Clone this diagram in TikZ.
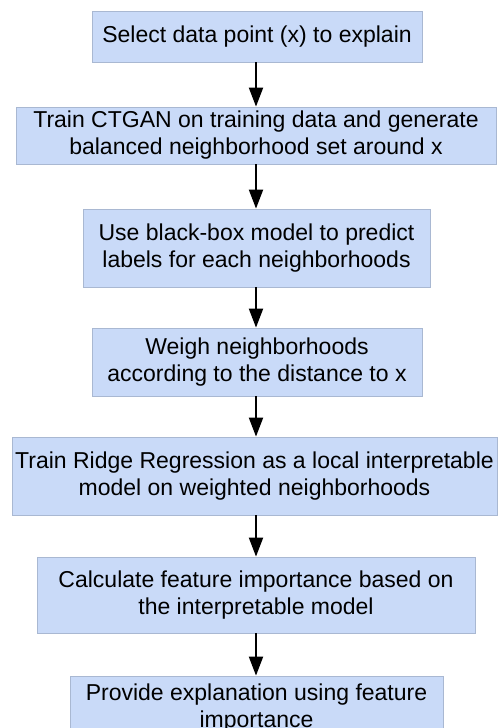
\documentclass[tikz,border=0pt]{standalone}
\usepackage{fontspec}
\setmainfont{Liberation Sans}
\usetikzlibrary{arrows.meta}
\definecolor{boxfill}{HTML}{C9DAF8}
\definecolor{boxline}{HTML}{A9B8D2}
\begin{document}
\begin{tikzpicture}[x=1pt,y=-1pt,
  stepbox/.style={draw=boxline,fill=boxfill,line width=0.8pt,align=center,
    font=\fontsize{23}{27}\selectfont,inner sep=0pt},
  flow/.style={line width=2pt,-{Triangle[length=19pt,width=14pt]}}]
\useasboundingbox (0,0) rectangle (499,728);
\node[stepbox,minimum width=330,minimum height=51] (b1) at (257,36.5) {Select data point (x) to explain};
\node[stepbox,minimum width=480,minimum height=57] (b2) at (256,135.5) {Train CTGAN on training data and generate\\balanced neighborhood set around x};
\node[stepbox,minimum width=347,minimum height=78] (b3) at (256.5,248) {Use black-box model to predict\\labels for each neighborhoods};
\node[stepbox,minimum width=330,minimum height=68] (b4) at (257,362) {Weigh neighborhoods\\according to the distance to x};
\node[stepbox,minimum width=485,minimum height=78] (b5) at (254.5,476) {Train Ridge Regression as a local interpretable\\model on weighted neighborhoods};
\node[stepbox,minimum width=438,minimum height=76] (b6) at (256,595) {Calculate feature importance based on\\the interpretable model};
\node[stepbox,minimum width=373,minimum height=64] (b7) at (256.5,708) {Provide explanation using feature\\importance};
\coordinate (x) at (256,0);
\draw[flow] (b1.south -| x) -- (b2.north -| x);
\draw[flow] (b2.south -| x) -- (b3.north -| x);
\draw[flow] (b3.south -| x) -- (b4.north -| x);
\draw[flow] (b4.south -| x) -- (b5.north -| x);
\draw[flow] (b5.south -| x) -- (b6.north -| x);
\draw[flow] (b6.south -| x) -- (b7.north -| x);
\end{tikzpicture}
\end{document}
